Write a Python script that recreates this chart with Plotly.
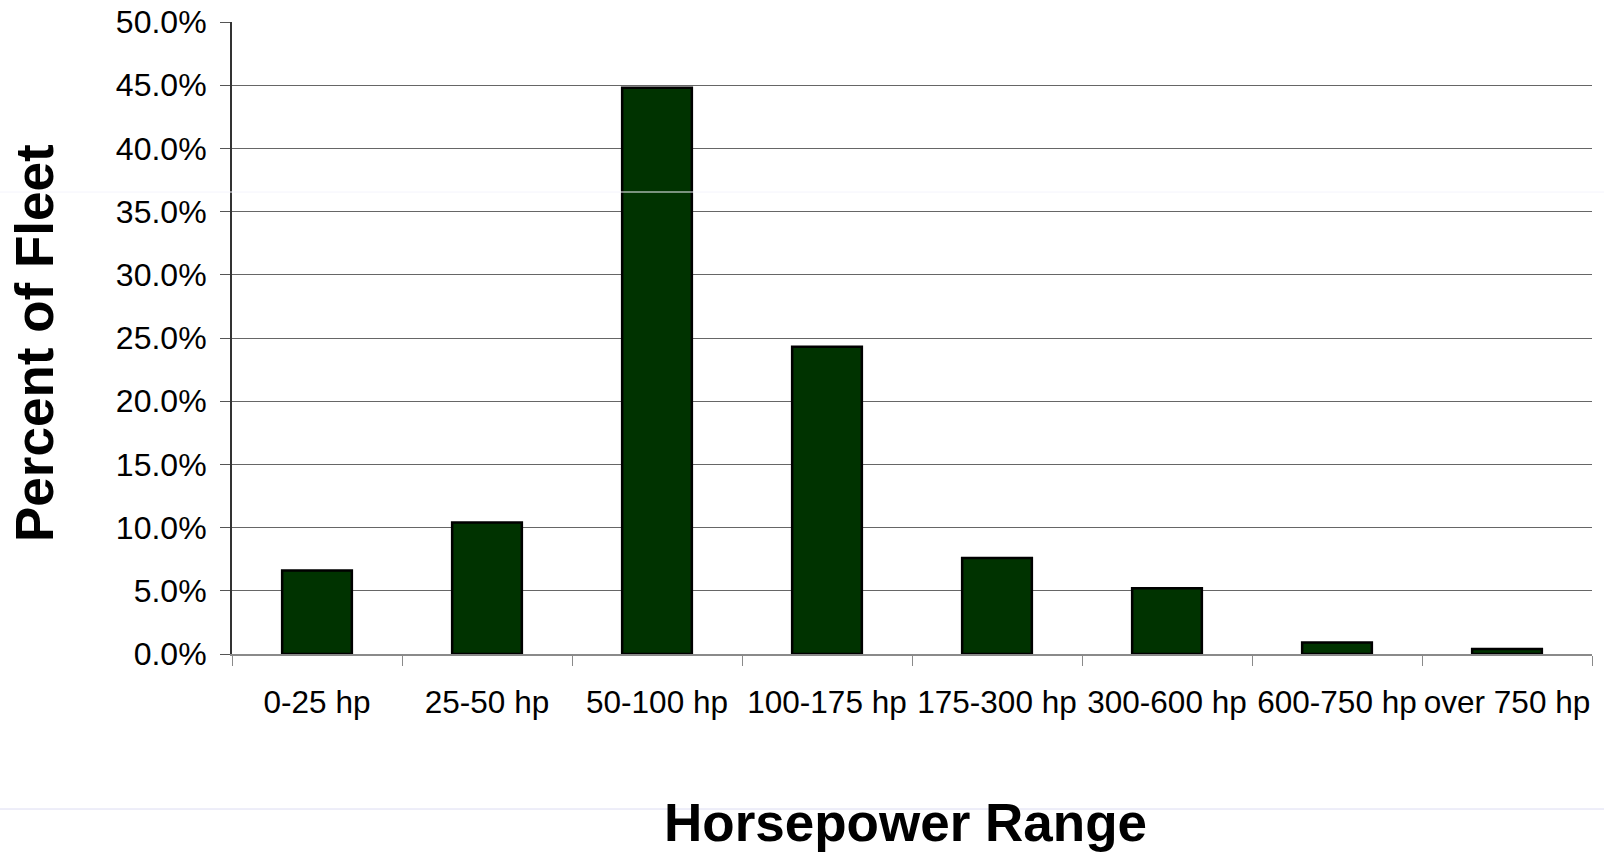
import plotly.graph_objects as go

categories = ["0-25 hp", "25-50 hp", "50-100 hp", "100-175 hp",
              "175-300 hp", "300-600 hp", "600-750 hp", "over 750 hp"]
percent_of_fleet = [0.066, 0.104, 0.448, 0.243, 0.076, 0.052, 0.009, 0.004]

x_title = "Horsepower Range"
y_title = "Percent of Fleet"

W, H = 1604, 854
L, R, T, B = 232, 12, 22, 200

fig = go.Figure()
fig.add_trace(go.Bar(
    x=categories, y=percent_of_fleet,
    marker=dict(color="#003300", line=dict(color="#000000", width=2.5)),
    hoverinfo="x+y",
))

font_family = "Liberation Sans, Arial, sans-serif"

fig.update_layout(
    width=W, height=H,
    margin=dict(l=L, r=R, t=T, b=B, pad=0),
    paper_bgcolor="white", plot_bgcolor="white",
    bargap=0.59,
    showlegend=False,
    font=dict(family=font_family, color="black"),
    xaxis=dict(
        type="category", automargin=False, tickangle=0,
        showline=True, linecolor="#8a8a8a", linewidth=2,
        ticks="outside", tickson="boundaries", ticklen=10, tickcolor="#8a8a8a", tickwidth=1,
        tickfont=dict(size=31.5, family=font_family, color="black"),
        ticklabelstandoff=19,
        showgrid=False, zeroline=False,
    ),
    yaxis=dict(
        range=[0, 0.5], dtick=0.05, tickformat=".1%", automargin=False,
        showline=True, linecolor="#333333", linewidth=2,
        ticks="outside", ticklen=10, tickcolor="#555555", tickwidth=1,
        tickfont=dict(size=32, family=font_family, color="black"),
        ticklabelstandoff=7,
        showgrid=True, gridcolor="#666666", gridwidth=1,
        zeroline=False,
    ),
    annotations=[
        dict(text=f"<b>{x_title}</b>", xref="paper", yref="paper",
             x=(905 - L) / (W - L - R), y=(H - B - 822) / (H - T - B),
             xanchor="center", yanchor="middle", showarrow=False,
             font=dict(size=53, family=font_family, color="black")),
        dict(text=f"<b>{y_title}</b>", xref="paper", yref="paper",
             x=(34 - L) / (W - L - R), y=(H - B - 343) / (H - T - B),
             xanchor="center", yanchor="middle", showarrow=False, textangle=-90,
             font=dict(size=53, family=font_family, color="black")),
    ],
    shapes=[
        dict(type="line", xref="paper", yref="paper", layer="above",
             x0=-L / (W - L - R), x1=1 + R / (W - L - R),
             y0=(H - B - 192) / (H - T - B), y1=(H - B - 192) / (H - T - B),
             line=dict(color="#f4f4fc", width=1)),
        dict(type="line", xref="paper", yref="paper", layer="below",
             x0=-L / (W - L - R), x1=1 + R / (W - L - R),
             y0=(H - B - 809) / (H - T - B), y1=(H - B - 809) / (H - T - B),
             line=dict(color="#dcdcf2", width=1)),
    ],
)

fig.write_html("out.html", config={"displayModeBar": False},
               post_script="document.body.style.margin='0';document.body.style.overflow='hidden';")
